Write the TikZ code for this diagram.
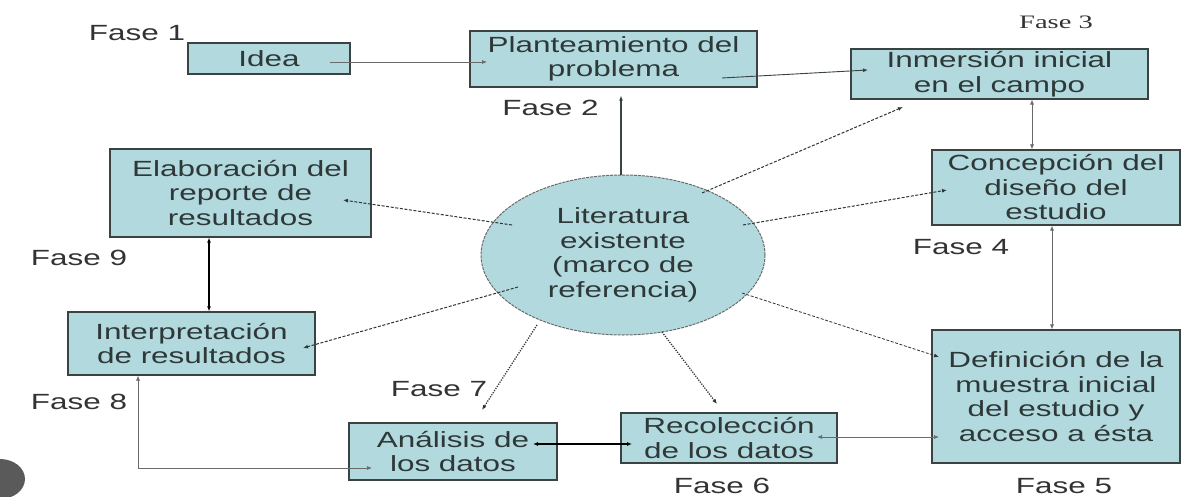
\documentclass[tikz,border=0pt]{standalone}
\usepackage{fontspec}
\setmainfont{Liberation Sans}[FakeStretch=1.43]
\newfontfamily\fasethree{Liberation Serif}[FakeStretch=1.5]
\usetikzlibrary{arrows.meta,shapes.geometric}
\definecolor{boxfill}{HTML}{B2DADE}
\definecolor{boxline}{HTML}{3A4242}
\definecolor{txt}{HTML}{2E3838}
\definecolor{fasetxt}{HTML}{333333}
\definecolor{thinline}{HTML}{6A6A6A}
\definecolor{blob}{HTML}{5A5A5A}
\begin{document}
\begin{tikzpicture}[x=1pt,y=-1pt,
  box/.style={draw=boxline,line width=1.2pt,fill=boxfill,inner sep=0pt,align=center,text=txt,font=\fontsize{22}{24.5}\selectfont},
  fase/.style={text=fasetxt,inner sep=0pt,font=\fontsize{22}{24.5}\selectfont},
  tipend/.style={-{Latex[length=5pt,width=4pt]}},
  tipboth/.style={{Latex[length=5pt,width=4pt]}-{Latex[length=5pt,width=4pt]}},
  solidthin/.style={draw=thinline,line width=0.7pt},
  soliddark/.style={draw=boxline,line width=0.9pt},
  solidbold/.style={draw=black,line width=1.3pt},
  dashline/.style={draw=boxline!80!black,line width=1pt,dash pattern=on 3pt off 1.6pt},
  dotline/.style={draw=boxline!80!black,line width=1.3pt,dash pattern=on 1.2pt off 1.3pt}
]
\useasboundingbox (0,0) rectangle (1182,497);
\fill[white] (0,0) rectangle (1182,497);
\begin{scope}
\clip (0,0) rectangle (1182,497);
\fill[blob] (0,479) ellipse [x radius=25, y radius=20];
\end{scope}

% boxes
\node[box,minimum width=162,minimum height=31] (idea) at (269,58.5) {Idea};
\node[box,minimum width=287,minimum height=56] (plan) at (613.5,59) {Planteamiento del\\problema};
\node[box,minimum width=297,minimum height=50] (inmer) at (999.5,74) {Inmersión inicial\\en el campo};
\node[box,minimum width=248,minimum height=75] (conc) at (1056,187.5) {Concepción del\\diseño del\\estudio};
\node[box,minimum width=248,minimum height=133] (def) at (1056,396.5) {Definición de la\\muestra inicial\\del estudio y\\acceso a ésta};
\node[box,minimum width=216,minimum height=50] (recol) at (729,438) {Recolección\\de los datos};
\node[box,minimum width=208,minimum height=57] (anal) at (453,451.5) {Análisis de\\los datos};
\node[box,minimum width=247,minimum height=63] (interp) at (191.5,343.5) {Interpretación\\de resultados};
\node[box,minimum width=261,minimum height=88] (elab) at (240.5,193) {Elaboración del\\reporte de\\resultados};
\node[box,ellipse,draw=thinline,line width=1pt,dash pattern=on 3pt off 1pt,minimum width=284,minimum height=160] (lit) at (623,255) {Literatura\\existente\\(marco de\\referencia)};

% phase labels
\node[fase] (f1) at (137,33) {Fase 1};
\node[fase] (f2) at (550.5,108) {Fase 2};
\node[text=fasetxt,inner sep=0pt,font=\fasethree\fontsize{19}{22}\selectfont] (f3) at (1056,22) {Fase 3};
\node[fase] (f4) at (961,247) {Fase 4};
\node[fase] (f5) at (1064,486) {Fase 5};
\node[fase] (f6) at (722,486) {Fase 6};
\node[fase] (f7) at (439,389) {Fase 7};
\node[fase] (f8) at (79,402) {Fase 8};
\node[fase] (f9) at (79,258) {Fase 9};

% box-to-box connectors
\draw[solidthin,tipend] ([shift={(61,3.5)}]idea.center) -- ([shift={(-126.5,3)}]plan.center);
\draw[soliddark,tipend] ([shift={(108.5,19)}]plan.center) -- ([shift={(-131.5,-4)}]inmer.center);
\draw[solidthin,tipboth] ([shift={(32.5,0)}]inmer.south) -- ([shift={(-24,0)}]conc.north);
\draw[solidthin,tipboth] ([shift={(-4,0)}]conc.south) -- ([shift={(-4,0)}]def.north);
\draw[solidbold,tipboth] ([shift={(-31.5,0)}]elab.south) -- ([shift={(17.5,0)}]interp.north);
\draw[solidbold,tipboth] ([shift={(80,-7.5)}]anal.center) -- ([shift={(-97,6)}]recol.center);
\draw[solidthin,tipboth] ([shift={(88,-1)}]recol.center) -- ([shift={(-117,40.5)}]def.center);
\draw[solidthin,tipboth] ([shift={(-53.5,0)}]interp.south) |- ([shift={(-81,16.5)}]anal.center);

% connectors from the literature ellipse
\draw[soliddark,line width=1.1pt,tipend] ([shift={(-2,-80)}]lit.center) -- ([shift={(7.5,8)}]plan.south);
\draw[dashline,tipend] ([shift={(-111,-30)}]lit.center) -- ([shift={(102.5,7)}]elab.center);
\draw[dashline,tipend] ([shift={(-105,32)}]lit.center) -- ([shift={(111.5,4.5)}]interp.center);
\draw[dashline,tipend] ([shift={(79,-62)}]lit.center) -- ([shift={(-96.5,33)}]inmer.center);
\draw[dashline,tipend] ([shift={(120,-30)}]lit.center) -- ([shift={(-109,2.5)}]conc.center);
\draw[dashline,line width=0.8pt,tipend] ([shift={(119,38)}]lit.center) -- ([shift={(-117,-39.5)}]def.center);
\draw[dotline,tipend] ([shift={(39,77)}]lit.center) -- ([shift={(-12,-34)}]recol.center);
\draw[dotline,tipend] ([shift={(-86,70)}]lit.center) -- ([shift={(29,-41.5)}]anal.center);
\end{tikzpicture}
\end{document}
